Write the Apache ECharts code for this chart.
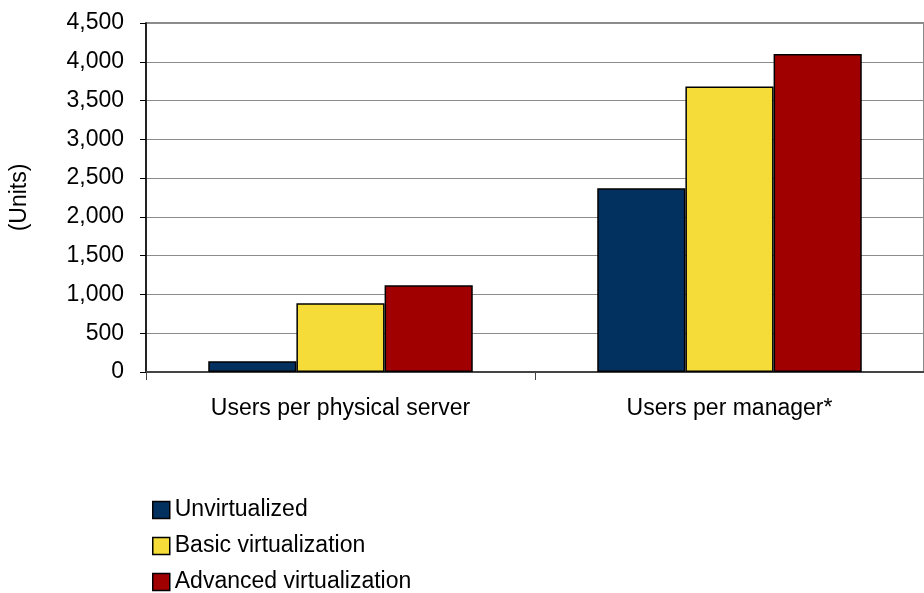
<!DOCTYPE html>
<html>
<head>
<meta charset="utf-8">
<script src="https://cdn.jsdelivr.net/npm/echarts@6/dist/echarts.min.js"></script>
<style>
  html, body { margin: 0; padding: 0; background: #fff; }
  #main { width: 924px; height: 593px; }
</style>
</head>
<body>
<div id="main"></div>
<script>
// categories and values
var categories = ['Users per physical server', 'Users per manager*'];
var seriesNames = ['Unvirtualized', 'Basic virtualization', 'Advanced virtualization'];
var unvirtualized = [140, 2370];
var basicVirt = [885, 3680];
var advancedVirt = [1120, 4100];
var barColors = ['#02305f', '#f5dc38', '#a00000'];

var fontName = '"Liberation Sans", Arial, sans-serif';
var fontSize = 23;

function makeSeries(name, values, color) {
    return {
        name: name,
        type: 'bar',
        data: values,
        barGap: '0%',
        barCategoryGap: '32%',
        itemStyle: {
            color: color,
            borderColor: '#000',
            borderWidth: 1.5
        }
    };
}

var chart = echarts.init(document.getElementById('main'), null, { renderer: 'canvas' });
chart.setOption({
    animation: false,
    textStyle: { fontFamily: fontName },
    // plot runs a little past the right edge, like the original
    grid: {
        left: 145,
        top: 23,
        width: 790,
        height: 349,
        show: true,
        borderColor: '#666',
        borderWidth: 1.5
    },
    legend: {
        orient: 'vertical',
        left: 152,
        top: 498,
        height: 130,
        padding: 0,
        itemWidth: 17,
        itemHeight: 17,
        itemGap: 12,
        icon: 'rect',
        data: seriesNames,
        textStyle: { fontFamily: fontName, fontSize: fontSize, lineHeight: 24, color: '#000' },
        itemStyle: { borderColor: '#000', borderWidth: 1.5 }
    },
    xAxis: {
        type: 'category',
        data: categories,
        axisLine: { lineStyle: { color: '#444', width: 2 } },
        axisTick: { show: true, length: 8, inside: false, lineStyle: { color: '#444', width: 1 } },
        axisLabel: { fontFamily: fontName, fontSize: fontSize, color: '#000', margin: 25 },
        splitLine: { show: false }
    },
    yAxis: {
        type: 'value',
        min: 0,
        max: 4500,
        interval: 500,
        name: '(Units)',
        nameLocation: 'middle',
        nameGap: 115,
        nameRotate: 90,
        nameTextStyle: { fontFamily: fontName, fontSize: fontSize, color: '#000' },
        axisLine: { show: true, lineStyle: { color: '#000', width: 1.5 } },
        axisTick: { show: true, length: 6, lineStyle: { color: '#000' } },
        axisLabel: {
            fontFamily: fontName,
            fontSize: fontSize,
            color: '#000',
            margin: 22,
            formatter: function (v) { return v.toLocaleString('en-US'); }
        },
        splitLine: { show: true, lineStyle: { color: '#8c8c8c', width: 1 } }
    },
    series: [
        makeSeries(seriesNames[0], unvirtualized, barColors[0]),
        makeSeries(seriesNames[1], basicVirt, barColors[1]),
        makeSeries(seriesNames[2], advancedVirt, barColors[2])
    ]
});
</script>
</body>
</html>
